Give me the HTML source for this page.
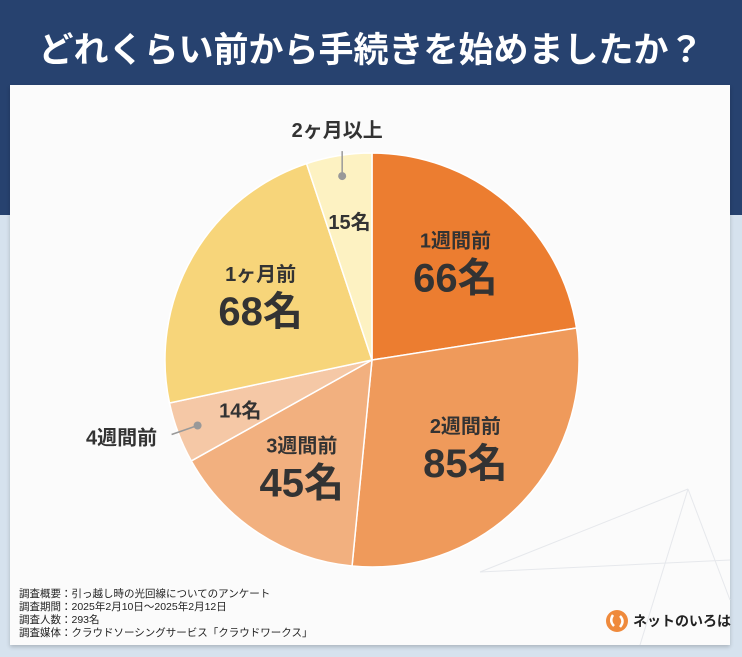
<!DOCTYPE html>
<html><head><meta charset="utf-8"><style>
html,body{margin:0;padding:0}
body{width:742px;height:657px;overflow:hidden;position:relative;background:#d6e2ee;font-family:"Liberation Sans","Noto Sans CJK JP",sans-serif}
#hdr{position:absolute;left:0;top:0;width:742px;height:215px;background:#27426f}
#title{position:absolute;left:0;top:22px;width:742px;text-align:center;color:#fff;font-size:35px;font-weight:bold}
#card{position:absolute;left:10px;top:85px;width:720px;height:560px;background:#fbfbfb;box-shadow:0 2px 4px rgba(0,0,0,.2)}
#notes{position:absolute;left:19px;top:588px;font-size:10.5px;line-height:13px;color:#222}
#logo{position:absolute;left:605px;top:609px;font-size:14px;font-weight:bold;color:#222;display:flex;align-items:center}
</style></head><body>
<div id="hdr"></div>
<div id="title">どれくらい前から手続きを始めましたか？</div>
<div id="card"></div>
<svg id="chart" width="742" height="657" style="position:absolute;left:0;top:0">
<g stroke="#e6e8ec" stroke-width="1" fill="none">
<line x1="480" y1="572" x2="688" y2="489"/><line x1="688" y1="489" x2="730" y2="600"/><line x1="480" y1="572" x2="730" y2="560"/><line x1="640" y1="645" x2="688" y2="489"/>
</g>
<g id="slices"></g><g id="labels"></g>
</svg>
<div id="notes">調査概要：引っ越し時の光回線についてのアンケート<br>調査期間：2025年2月10日～2025年2月12日<br>調査人数：293名<br>調査媒体：クラウドソーシングサービス「クラウドワークス」</div>
<div id="logo"><svg width="24" height="24"><circle cx="12" cy="12" r="11" fill="#ef8a3c"/><path d="M8 6 Q4 12 9 17 M15 7 Q20 12 15 18" stroke="#fff" stroke-width="2.5" fill="none"/></svg><span style="margin-left:4px">ネットのいろは</span></div>
<script>
const categories=["1週間前","2週間前","3週間前","4週間前","1ヶ月前","2ヶ月以上"];
const values=[66,85,45,14,68,15];
const colors=["#ec7d30","#ef9a5b","#f2b07f","#f5c8a6","#f7d57a","#fdf2c2"];
const cx=372,cy=360,r=207;
const total=values.reduce((a,b)=>a+b,0);
const ns="http://www.w3.org/2000/svg";
const sg=document.getElementById('slices'),lg=document.getElementById('labels');
function pt(a,rr){return [cx+rr*Math.sin(a),cy-rr*Math.cos(a)];}
function txt(x,y,s,size){const t=document.createElementNS(ns,'text');t.setAttribute('x',x);t.setAttribute('y',y);t.setAttribute('text-anchor','middle');t.setAttribute('font-size',size);t.setAttribute('font-weight','bold');t.setAttribute('fill','#333');t.textContent=s;


lg.appendChild(t);return t;}
function line(x1,y1,x2,y2){const l=document.createElementNS(ns,'line');l.setAttribute('x1',x1);l.setAttribute('y1',y1);l.setAttribute('x2',x2);l.setAttribute('y2',y2);l.setAttribute('stroke','#999');l.setAttribute('stroke-width','1.5');


lg.appendChild(l);}
function dot(x,y){const c=document.createElementNS(ns,'circle');c.setAttribute('cx',x);c.setAttribute('cy',y);c.setAttribute('r',4);c.setAttribute('fill','#999');


lg.appendChild(c);}
let a0=0;
values.forEach((v,i)=>{
 const a1=a0+v/total*2*Math.PI;
 const p0=pt(a0,r),p1=pt(a1,r);
 const p=document.createElementNS(ns,'path');
 p.setAttribute('d',`M${cx},${cy}L${p0[0]},${p0[1]}A${r},${r} 0 ${a1-a0>Math.PI?1:0} 1 ${p1[0]},${p1[1]}Z`);
 p.setAttribute('fill',colors[i]);p.setAttribute('stroke','#fff');p.setAttribute('stroke-width','1.5');
 
 
 sg.appendChild(p);
 const m=(a0+a1)/2;
 if(v>=30){
   const q=pt(m,r*0.62);
   txt(q[0],q[1]-15,categories[i],20);
   txt(q[0],q[1]+29,values[i]+'名',40);
 } else {
   const q=pt(m,r*0.68);
   txt(q[0],q[1]+8,values[i]+'名',20);
   const d=pt(m,r*0.9);
   dot(d[0],d[1]);
   if(d[1]<cy-r*0.5){
     line(d[0],d[1],d[0],d[1]-25);
     txt(d[0]-5,d[1]-39,categories[i],20);
   } else {
     line(d[0],d[1],d[0]-26,d[1]+9);
     txt(d[0]-76,d[1]+19,categories[i],20);
   }
 }
 a0=a1;
});
</script>
</body></html>
